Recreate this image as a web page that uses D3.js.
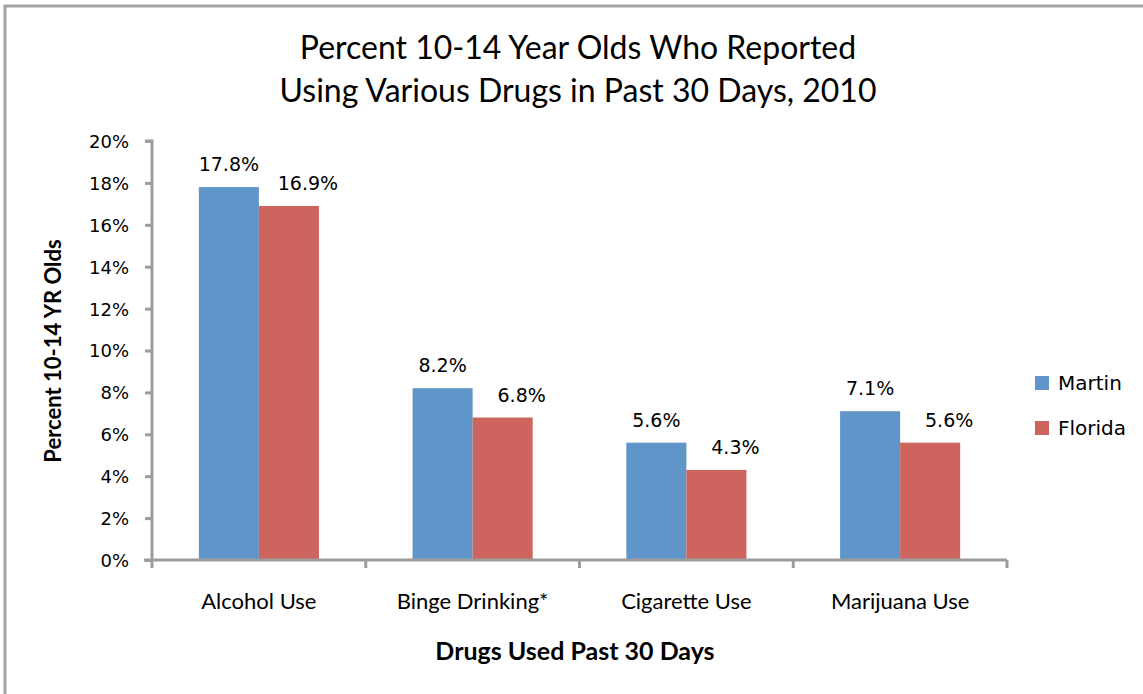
<!DOCTYPE html>
<html>
<head>
<meta charset="utf-8">
<script src="https://cdn.jsdelivr.net/npm/d3@7"></script>
<style>
  html, body { margin: 0; padding: 0; background: #fff; }
  svg { display: block; }
</style>
</head>
<body>
<svg id="chart" width="1143" height="694"></svg>
<script>
// Substance use among 10-14 year olds, past 30 days (2010)
const categories = ["Alcohol Use", "Binge Drinking*", "Cigarette Use", "Marijuana Use"];
const seriesNames = ["Martin", "Florida"];
const martinValues = [17.8, 8.2, 5.6, 7.1];
const floridaValues = [16.9, 6.8, 4.3, 5.6];
const yTickValues = [0, 2, 4, 6, 8, 10, 12, 14, 16, 18, 20];
const titleLines = ["Percent 10-14 Year Olds Who Reported", "Using Various Drugs in Past 30 Days, 2010"];
const yAxisTitle = "Percent 10-14 YR Olds";
const xAxisTitle = "Drugs Used Past 30 Days";

const colors = { Martin: "#5f95c9", Florida: "#cd645e" };
const labelShift = { Martin: 0, Florida: 19 };
const axisGray = "#9c9c9c";
const sansNum = "'DejaVu Sans', Verdana, sans-serif";
const sansText = "Lato, 'Open Sans', sans-serif";

const svg = d3.select("#chart");

// outer frame
svg.append("path")
  .attr("d", "M5,700 L5,6 L1150,6")
  .attr("fill", "none")
  .attr("stroke", "#a3a3a3")
  .attr("stroke-width", 3);

const plot = { left: 152, right: 1007, top: 141, bottom: 560 };

const x0 = d3.scaleBand().domain(categories).range([plot.left, plot.right]).padding(0);
const x1 = d3.scaleBand().domain(seriesNames).range([0, x0.bandwidth()]).paddingInner(0).paddingOuter(0.78);
const y = d3.scaleLinear().domain([0, 20]).range([plot.bottom, plot.top]);

const rows = categories.map((c, i) => ({
  category: c,
  values: [
    { series: "Martin", value: martinValues[i] },
    { series: "Florida", value: floridaValues[i] }
  ]
}));

// title
svg.append("g").selectAll("text").data(titleLines).join("text")
  .attr("x", 578)
  .attr("y", (d, i) => 59 + i * 43)
  .attr("text-anchor", "middle")
  .attr("font-family", sansText)
  .attr("font-size", 32)
  .attr("fill", "#000")
  .text(d => d);

// bars
const groups = svg.append("g").selectAll("g").data(rows).join("g")
  .attr("transform", d => `translate(${x0(d.category)},0)`);

groups.selectAll("rect").data(d => d.values).join("rect")
  .attr("x", d => x1(d.series))
  .attr("y", d => y(d.value))
  .attr("width", x1.bandwidth())
  .attr("height", d => y(0) - y(d.value))
  .attr("fill", d => colors[d.series]);

// value labels
groups.selectAll("text").data(d => d.values).join("text")
  .attr("x", d => x1(d.series) + x1.bandwidth() / 2 + labelShift[d.series])
  .attr("y", d => y(d.value) - 16)
  .attr("text-anchor", "middle")
  .attr("font-family", sansNum)
  .attr("font-size", 19)
  .attr("fill", "#000")
  .text(d => d.value.toFixed(1) + "%");

// y axis
const yAxis = d3.axisLeft(y).tickValues(yTickValues).tickSize(7).tickPadding(16)
  .tickFormat(d => d + "%");
const yg = svg.append("g").attr("transform", `translate(${plot.left},0)`).call(yAxis);
yg.select(".domain").attr("stroke", axisGray).attr("stroke-width", 3)
  .attr("d", `M-7,${plot.top}H0V${plot.bottom}`);
yg.selectAll(".tick line").attr("stroke", axisGray).attr("stroke-width", 3);
yg.selectAll(".tick text")
  .attr("font-family", sansNum).attr("font-size", 18).attr("fill", "#000")
  .attr("dy", "0.36em");

// x axis: ticks at category boundaries
const boundaries = categories.map(c => x0(c)).concat([plot.right]);
const xg = svg.append("g");
xg.append("line")
  .attr("x1", plot.left - 8).attr("x2", plot.right)
  .attr("y1", plot.bottom).attr("y2", plot.bottom)
  .attr("stroke", axisGray).attr("stroke-width", 3);
xg.selectAll("line.tk").data(boundaries).join("line")
  .attr("class", "tk")
  .attr("x1", d => d).attr("x2", d => d)
  .attr("y1", plot.bottom).attr("y2", plot.bottom + 8)
  .attr("stroke", axisGray).attr("stroke-width", 3);
xg.selectAll("text").data(categories).join("text")
  .attr("x", d => x0(d) + x0.bandwidth() / 2)
  .attr("y", 609)
  .attr("text-anchor", "middle")
  .attr("font-family", sansText)
  .attr("font-size", 22)
  .attr("fill", "#000")
  .text(d => d);

// axis titles
svg.append("text")
  .attr("transform", "translate(61,351) rotate(-90)")
  .attr("text-anchor", "middle")
  .attr("font-family", sansText)
  .attr("font-weight", "bold")
  .attr("font-size", 22)
  .attr("fill", "#000")
  .text(yAxisTitle);

svg.append("text")
  .attr("x", 575)
  .attr("y", 660)
  .attr("text-anchor", "middle")
  .attr("font-family", sansText)
  .attr("font-weight", "bold")
  .attr("font-size", 25)
  .attr("fill", "#000")
  .text(xAxisTitle);

// legend
const legend = svg.append("g").selectAll("g").data(seriesNames).join("g")
  .attr("transform", (d, i) => `translate(1035,${376 + i * 45})`);
legend.append("rect")
  .attr("width", 14).attr("height", 14)
  .attr("fill", d => colors[d]);
legend.append("text")
  .attr("x", 23).attr("y", 7).attr("dy", "0.36em")
  .attr("font-family", sansNum)
  .attr("font-size", 20)
  .attr("fill", "#000")
  .text(d => d);
</script>
</body>
</html>
